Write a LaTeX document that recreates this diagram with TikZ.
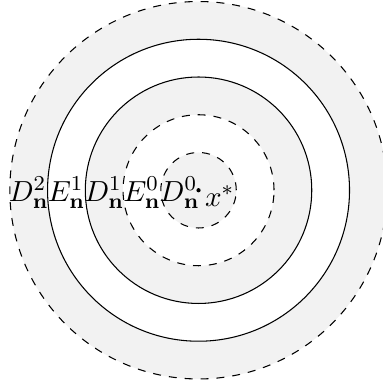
\documentclass[tikz,border=0pt,11pt]{standalone}
\usepackage{amsmath}
\usepackage{tikz}
\usetikzlibrary{positioning}
\definecolor{Shade}{HTML}{F2F2F2}
\tikzset{
  bound/.style={dashed, thin},
  wall/.style={thin},
  lbl/.style={inner sep=0pt}
}

\begin{document}
\begin{tikzpicture}
  \useasboundingbox (-2.63,-2.58) rectangle (2.44,2.52);
  \coordinate (O) at (0,0);
  % shaded rings, outside in
  \foreach \r/\c in {2.5/Shade,2/white,1.5/Shade,1/white,0.5/Shade}{ \fill[\c] (O) circle (\r); }
  \draw[bound] (O) circle (2.5);
  \draw[wall]  (O) circle (2);
  \draw[wall]  (O) circle (1.5);
  \draw[bound] (O) circle (1);
  \draw[bound] (O) circle (0.5);
  \fill (O) circle (0.8pt);
  \node[lbl, anchor=west] (X) at (0.08,-0.08) {$x^*$};
  \node[lbl] (D2) at (-2.25,-0.03) {$D^2_{\mathbf{n}}$};
  \node[lbl] (E1) at (-1.75,-0.03) {$E^1_{\mathbf{n}}$};
  \node[lbl] (D1) at (-1.25,-0.03) {$D^1_{\mathbf{n}}$};
  \node[lbl] (E0) at (-0.75,-0.03) {$E^0_{\mathbf{n}}$};
  \node[lbl] (D0) at (-0.25,-0.03) {$D^0_{\mathbf{n}}$};
\end{tikzpicture}
\end{document}
